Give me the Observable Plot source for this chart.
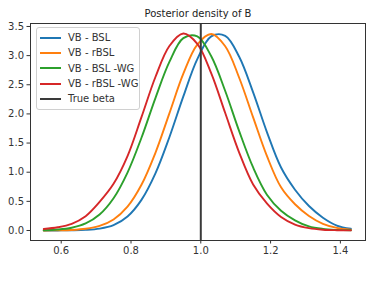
<!DOCTYPE html>
<html>
<head>
<meta charset="utf-8">
<script src="https://cdn.jsdelivr.net/npm/d3@7"></script>
<script src="https://cdn.jsdelivr.net/npm/@observablehq/plot@0.6"></script>
<style>
  html, body { margin: 0; padding: 0; background: #fff; }
  #wrap { position: relative; width: 372px; height: 282px; font-family: "DejaVu Sans", sans-serif; }
  #legend { position: absolute; left: 36px; top: 27px; width: 104px; padding: 2px 0 3px 0;
            background: rgba(255,255,255,0.85); border: 1px solid #d0d0d0; border-radius: 3px;
            font-size: 10px; color: #333; box-sizing: border-box; }
  .row { display: flex; align-items: center; height: 15.3px; }
  .sw { width: 21px; height: 0; border-top: 2px solid; margin-left: 3px; margin-right: 7px; }
</style>
</head>
<body>
<div id="wrap"></div>
<script>
// grid of x values (beta)
const xs = [0.55,0.59,0.63,0.67,0.71,0.75,0.79,0.83,0.87,0.91,0.95,0.99,1.03,1.07,1.11,1.15,1.19,1.23,1.27,1.31,1.35,1.39,1.43];
// density values
const vbBSL    = [0.000,0.001,0.003,0.010,0.032,0.092,0.240,0.525,0.980,1.600,2.300,2.940,3.330,3.340,2.980,2.370,1.680,1.080,0.700,0.420,0.220,0.085,0.030];
const vbRBSL   = [0.001,0.003,0.009,0.029,0.079,0.190,0.410,0.785,1.333,2.010,2.690,3.190,3.370,3.160,2.620,1.940,1.270,0.740,0.450,0.250,0.115,0.045,0.015];
const vbBSLWG  = [0.005,0.017,0.048,0.121,0.274,0.553,0.993,1.591,2.272,2.892,3.300,3.330,2.988,2.393,1.705,1.081,0.610,0.340,0.175,0.070,0.027,0.010,0.003];
const vbRBSLWG = [0.025,0.055,0.115,0.245,0.490,0.800,1.275,1.944,2.633,3.166,3.380,3.203,2.696,2.015,1.337,0.788,0.460,0.231,0.101,0.040,0.014,0.005,0.002];
const seriesNames = ["VB - BSL", "VB - rBSL", "VB - BSL -WG", "VB - rBSL -WG"];
const seriesColors = ["#1f77b4", "#ff7f0e", "#2ca02c", "#d62728"];
const trueBeta = 1.0;
const trueLabel = "True beta";
const trueColor = "#3a3a3a";
const xTicks = [0.6, 0.8, 1.0, 1.2, 1.4];
const yTicks = [0.0, 0.5, 1.0, 1.5, 2.0, 2.5, 3.0, 3.5];
const title = "Posterior density of B";

const seriesValues = [vbBSL, vbRBSL, vbBSLWG, vbRBSLWG];
const rows = [];
seriesNames.forEach((name, i) => {
  xs.forEach((x, j) => rows.push({series: name, x, y: seriesValues[i][j]}));
});

const chart = Plot.plot({
  width: 372,
  height: 282,
  marginLeft: 30,
  marginRight: 7,
  marginTop: 23,
  marginBottom: 42,
  style: {fontFamily: "DejaVu Sans, sans-serif", fontSize: "10px", color: "#333", background: "#fff"},
  x: {domain: [0.512, 1.472], ticks: xTicks, tickFormat: d3.format(".1f"), tickSize: 3.5, tickPadding: 3, label: null},
  y: {domain: [-0.1716, 3.551], ticks: yTicks, tickFormat: d3.format(".1f"), tickSize: 3.5, tickPadding: 3, label: null},
  color: {domain: seriesNames, range: seriesColors},
  marks: [
    Plot.line(rows, {x: "x", y: "y", z: "series", stroke: "series", strokeWidth: 1.9, curve: "catmull-rom"}),
    Plot.ruleX([trueBeta], {stroke: trueColor, strokeWidth: 2}),
    Plot.frame({stroke: "#333", strokeWidth: 1}),
    Plot.text([title], {frameAnchor: "top", dy: -14, fontSize: 10, fill: "#222", fontFamily: "DejaVu Sans, sans-serif"})
  ]
});

const wrap = document.getElementById("wrap");
wrap.appendChild(chart);

const legend = document.createElement("div");
legend.id = "legend";
const items = seriesNames.map((n, i) => [n, seriesColors[i]]).concat([[trueLabel, trueColor]]);
items.forEach(([name, color]) => {
  const r = document.createElement("div");
  r.className = "row";
  const sw = document.createElement("div");
  sw.className = "sw";
  sw.style.borderTopColor = color;
  const t = document.createElement("span");
  t.textContent = name;
  r.appendChild(sw);
  r.appendChild(t);
  legend.appendChild(r);
});
wrap.appendChild(legend);
</script>
</body>
</html>
